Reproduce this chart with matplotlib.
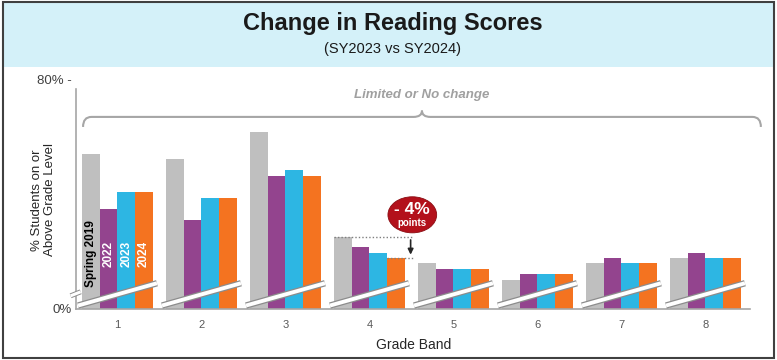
import matplotlib
matplotlib.use("Agg")
import matplotlib.pyplot as plt
import numpy as np
from matplotlib.patches import Rectangle, Ellipse, PathPatch
from matplotlib.path import Path
from matplotlib.transforms import blended_transform_factory

plt.rcParams["font.family"] = ["Liberation Sans", "DejaVu Sans"]

# ---- data (axis is broken so values follow the drawn scale) ----
grades = ["1", "2", "3", "4", "5", "6", "7", "8"]
series = ["Spring 2019", "2022", "2023", "2024"]
spring_2019 = [54.2, 52.3, 62.0, 25.3, 16.0, 10.1, 16.0, 17.7]
sy2022 = [35.0, 31.1, 46.5, 21.6, 13.9, 12.1, 17.7, 19.6]
sy2023 = [40.9, 38.9, 48.4, 19.7, 13.9, 12.1, 16.0, 17.7]
sy2024 = [40.9, 38.9, 46.5, 17.7, 13.9, 12.1, 16.0, 17.7]
bar_colors = ["#bfbfbf", "#93448e", "#2db6e3", "#f47320"]
label_colors = ["black", "white", "white", "white"]
change_label = "- 4%"
bracket_label = "Limited or No change"

values = [spring_2019, sy2022, sy2023, sy2024]
x = np.arange(1, len(grades) + 1)
w = 0.21

fig = plt.figure(figsize=(7.77, 3.6), dpi=100)
# title band + outer frame
fig.patches.append(Rectangle((0.004, 0.813), 0.992, 0.18, transform=fig.transFigure,
                             facecolor="#d4f1f9", edgecolor="none", zorder=0))
fig.patches.append(Rectangle((0.004, 0.006), 0.992, 0.988, transform=fig.transFigure,
                             facecolor="none", edgecolor="#404040", lw=1.5, zorder=5))
fig.text(0.505, 0.935, "Change in Reading Scores", ha="center", va="center",
         fontsize=17, fontweight="bold", color="#1a1a1a")
fig.text(0.505, 0.863, "(SY2023 vs SY2024)", ha="center", va="center",
         fontsize=10.5, color="#1a1a1a")

ax = fig.add_axes([0.0978, 0.1417, 0.8674, 0.6361])
for i, (vals, col) in enumerate(zip(values, bar_colors)):
    ax.bar(x + (i - 1.5) * w, vals, width=w, color=col, zorder=2)

ax.set_xlim(0.506, 8.53)
ax.set_ylim(0, 80)
ax.set_yticks([0, 80])
ax.set_yticklabels(["0%", "80% -"])
ax.set_xticks(x)
ax.set_xticklabels(grades)
ax.tick_params(axis="y", length=0, pad=3, labelsize=9.5, labelcolor="#404040")
ax.tick_params(axis="x", length=0, pad=8, labelsize=8, labelcolor="#595959")
for s in ["top", "right"]:
    ax.spines[s].set_visible(False)
for s in ["left", "bottom"]:
    ax.spines[s].set_color("#a6a6a6")
    ax.spines[s].set_linewidth(1.2)
ax.spines["left"].set_bounds(0, 77)
fig.text(0.056, 0.445, "% Students on or\nAbove Grade Level", rotation=90,
         ha="center", va="center", fontsize=9.5, color="#262626", linespacing=1.1)
fig.text(0.532, 0.042, "Grade Band", ha="center", va="center", fontsize=10,
         color="#262626")

# series names inside grade 1 bars
for i, name in enumerate(series):
    ax.text(x[0] + (i - 1.5) * w, 19.2, name, rotation=90, ha="center", va="center",
            fontsize=8.5, fontweight="bold", color=label_colors[i], zorder=4)

# axis-break bands across each group
for c in x:
    ax.plot([c - 0.47, c + 0.47], [1.2, 9.0], color="#8c8c8c", lw=4.6,
            solid_capstyle="butt", zorder=3)
    ax.plot([c - 0.47, c + 0.47], [1.2, 9.0], color="white", lw=2.8,
            solid_capstyle="butt", zorder=3.1)
# axis-break on the y spine
bt = blended_transform_factory(ax.transAxes, ax.transData)
ax.plot([-0.008, 0.007], [4.6, 6.0], color="#8c8c8c", lw=3.6, transform=bt,
        clip_on=False, solid_capstyle="butt", zorder=3)
ax.plot([-0.008, 0.007], [4.6, 6.0], color="white", lw=2.2, transform=bt,
        clip_on=False, solid_capstyle="butt", zorder=3.1)

# curly bracket over all grades
x0, x1 = 0.59, 8.66
xm = (x0 + x1) / 2
yb, yh, yp = 63.6, 67.1, 69.3
verts = [(x0, yb), (x0, yh), (x0 + 0.1, yh),
         (xm - 0.1, yh), (xm, yh), (xm, yp),
         (xm, yh), (xm + 0.1, yh),
         (x1 - 0.1, yh), (x1, yh), (x1, yb)]
codes = [Path.MOVETO, Path.CURVE3, Path.CURVE3,
         Path.LINETO, Path.CURVE3, Path.CURVE3,
         Path.CURVE3, Path.CURVE3,
         Path.LINETO, Path.CURVE3, Path.CURVE3]
ax.add_patch(PathPatch(Path(verts, codes), facecolor="none", edgecolor="#a6a6a6",
                       lw=1.5, clip_on=False))
ax.text(xm, 74.8, bracket_label, ha="center", va="center", fontsize=9.5,
        fontstyle="italic", fontweight="bold", color="#a0a0a0")

# grade 4 change callout
g = 3
top_2019 = spring_2019[g]
top_2024 = sy2024[g]
xr = x[g] + 0.52
ax.plot([x[g] - 2 * w, xr], [top_2019, top_2019], ls=(0, (1, 1.5)), color="#7f7f7f",
        lw=1, zorder=4)
ax.plot([x[g] + w, xr], [top_2024, top_2024], ls=(0, (1, 1.5)), color="#7f7f7f",
        lw=1, zorder=4)
ax.annotate("", xy=(xr - 0.03, top_2024 + 0.3), xytext=(xr - 0.03, top_2019 - 0.2),
            arrowprops=dict(arrowstyle="-|>", color="#262626", lw=1.2,
                            mutation_scale=8), zorder=5)
ax.add_patch(Ellipse((x[g] + 0.51, 32.9), 0.58, 12.6, facecolor="#b3111b",
                     edgecolor="#8a0c12", lw=0.6, zorder=5))
ax.text(x[g] + 0.51, 34.6, change_label, ha="center", va="center", fontsize=12.5,
        fontweight="bold", color="white", zorder=6)
ax.text(x[g] + 0.51, 30.0, "points", ha="center", va="center", fontsize=7,
        fontweight="bold", color="white", zorder=6)

fig.savefig("out.png", dpi=100)
